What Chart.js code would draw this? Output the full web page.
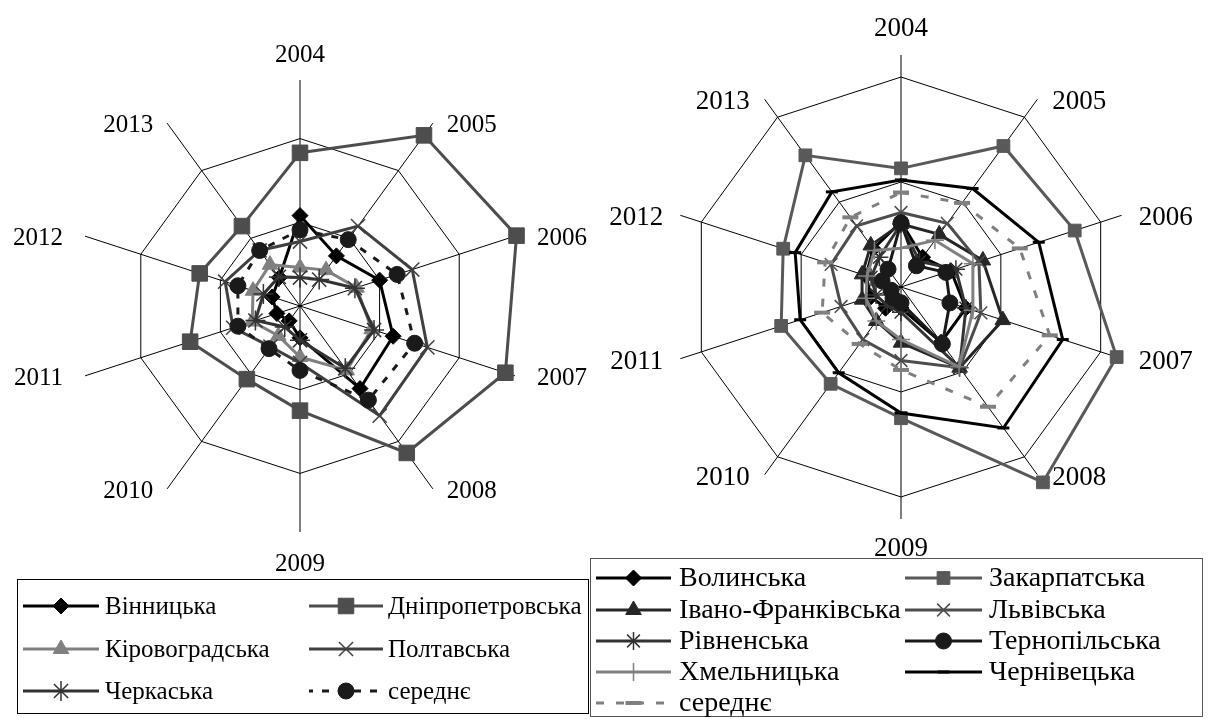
<!DOCTYPE html>
<html lang="uk">
<head>
<meta charset="UTF-8">
<title>Радарні діаграми 2004–2013</title>
<script src="https://cdn.jsdelivr.net/npm/chart.js"></script>
<style>
  html, body { margin: 0; padding: 0; background: #fff; }
  body { width: 1209px; height: 719px; position: relative; overflow: hidden; font-family: "Liberation Serif", "Times New Roman", serif; }
  canvas { position: absolute; top: 0; }
  #left { left: 0; }
  #right { left: 590px; }
  #probe { position: absolute; left: -999px; top: 0; font: 20px "Liberation Serif"; }
</style>
</head>
<body>
<div id="probe">2004 Вінницька</div>
<canvas id="left" width="590" height="719"></canvas>
<canvas id="right" width="619" height="719"></canvas>
<script>
const years = ['2004', '2005', '2006', '2007', '2008', '2009', '2010', '2011', '2012', '2013'];

// left chart
const vinnytsia  = [1.08, 0.74, 1.00, 1.17, 1.22, 0.38, 0.22, 0.29, 0.35, 0.42];
const dnipro     = [1.83, 2.52, 2.72, 2.58, 2.17, 1.25, 1.08, 1.38, 1.26, 1.18];
const kirovohrad = [0.46, 0.53, 0.71, 0.90, 0.95, 0.61, 0.44, 0.60, 0.59, 0.61];
const poltava    = [0.77, 1.18, 1.41, 1.60, 1.62, 0.68, 0.60, 0.84, 0.94, 0.82];
const cherkasy   = [0.34, 0.39, 0.69, 0.93, 0.92, 0.41, 0.31, 0.56, 0.46, 0.43];
const avgCentre  = [0.91, 0.98, 1.22, 1.44, 1.39, 0.77, 0.63, 0.78, 0.78, 0.82];

// right chart
const volyn       = [0.62, 0.35, 0.50, 0.65, 0.65, 0.20, 0.25, 0.30, 0.35, 0.45];
const zakarpattia = [1.13, 1.66, 1.74, 2.16, 2.30, 1.25, 1.14, 1.20, 1.18, 1.55];
const ivano       = [0.60, 0.62, 0.82, 1.02, 0.95, 0.53, 0.40, 0.39, 0.39, 0.49];
const lviv        = [0.71, 0.75, 0.78, 0.80, 0.95, 0.70, 0.62, 0.60, 0.70, 0.72];
const rivne       = [0.60, 0.30, 0.55, 0.65, 0.95, 0.24, 0.22, 0.25, 0.30, 0.35];
const ternopil    = [0.61, 0.25, 0.45, 0.49, 0.67, 0.15, 0.13, 0.10, 0.19, 0.21];
const khmel       = [0.37, 0.55, 0.72, 0.72, 0.94, 0.50, 0.40, 0.35, 0.34, 0.43];
const chernivtsi  = [1.02, 1.16, 1.38, 1.62, 1.66, 1.20, 1.01, 1.01, 1.06, 1.12];
const avgWest     = [0.90, 0.99, 1.19, 1.49, 1.41, 0.79, 0.67, 0.79, 0.76, 0.82];

const FONT = '"Liberation Serif", "Times New Roman", Tinos, "DejaVu Serif", serif';

function series(label, data, color, style, radius, pbw, dash) {
  return {
    label, data,
    borderColor: color, backgroundColor: 'transparent', fill: false,
    borderWidth: 3, borderDash: dash || [],
    pointStyle: style, pointRadius: radius, pointHoverRadius: radius,
    pointBackgroundColor: color, pointBorderColor: color, pointBorderWidth: pbw,
    clip: false
  };
}

// year labels around the web
const yearLabels = {
  id: 'yearLabels',
  afterDraw(chart, args, o) {
    const s = chart.scales.r, ctx = chart.ctx, n = chart.data.labels.length;
    ctx.save();
    ctx.font = o.size + 'px ' + FONT;
    ctx.fillStyle = '#000';
    ctx.textBaseline = 'alphabetic';
    const cap = o.size * 0.66;
    chart.data.labels.forEach((t, i) => {
      const p = s.getPointPosition(i, s.drawingArea);
      if (i === 0) {
        ctx.textAlign = 'center'; ctx.fillText(t, p.x, p.y - o.top);
      } else if (i === n / 2) {
        ctx.textAlign = 'center'; ctx.fillText(t, p.x, p.y + o.bottom + cap);
      } else {
        const far = Math.abs(Math.sin(i / n * 2 * Math.PI)) > 0.8;
        const g = far ? o.far : o.near;
        const right = i < n / 2;
        ctx.textAlign = right ? 'left' : 'right';
        ctx.fillText(t, p.x + (right ? g : -g), p.y + cap / 2 + 1);
      }
    });
    ctx.restore();
  }
};

// boxed two-column legend
const boxLegend = {
  id: 'boxLegend',
  afterDraw(chart, args, o) {
    const ctx = chart.ctx;
    ctx.save();
    ctx.strokeStyle = o.frame; ctx.lineWidth = 1;
    ctx.strokeRect(o.box[0] + 0.5, o.box[1] + 0.5, o.box[2], o.box[3]);
    ctx.font = o.size + 'px ' + FONT;
    ctx.textBaseline = 'middle';
    ctx.textAlign = 'left';
    chart.data.datasets.forEach((ds, k) => {
      const c = o.cols[k % 2], y = o.rows[Math.floor(k / 2)];
      const mid = (c[0] + c[1]) / 2;
      ctx.strokeStyle = ds.borderColor; ctx.lineWidth = ds.borderWidth;
      ctx.setLineDash(ds.borderDash);
      ctx.lineDashOffset = o.dashOffset || 0;
      ctx.beginPath(); ctx.moveTo(c[0], y); ctx.lineTo(c[1], y); ctx.stroke();
      ctx.setLineDash([]);
      ctx.fillStyle = ds.pointBackgroundColor;
      ctx.strokeStyle = ds.pointBorderColor;
      ctx.lineWidth = ds.pointBorderWidth;
      Chart.helpers.drawPoint(ctx, {
        pointStyle: ds.pointStyle, radius: ds.pointRadius,
        borderWidth: ds.pointBorderWidth, rotation: 0
      }, mid, y);
      ctx.fillStyle = '#000';
      ctx.fillText(ds.label, c[2], y + 1);
    });
    ctx.restore();
  }
};

function radarOptions(max, pad, labels, legend) {
  return {
    responsive: false,
    animation: false,
    devicePixelRatio: 1,
    layout: { padding: pad },
    elements: { line: { tension: 0 } },
    plugins: {
      legend: { display: false },
      tooltip: { enabled: false },
      yearLabels: labels,
      boxLegend: legend
    },
    scales: {
      r: {
        min: 0, max: max,
        ticks: { display: false, stepSize: 1 },
        grid: { color: c => (c.tick && c.tick.value > 2) ? 'rgba(0,0,0,0)' : '#000', lineWidth: 1 },
        angleLines: { color: '#000', lineWidth: 1 },
        pointLabels: { display: false }
      }
    }
  };
}

function ordered(list) {
  // later series on top, as in the source
  list.forEach((d, k) => { d.order = list.length - k; });
  return list;
}

function draw() {
  new Chart(document.getElementById('left'), {
    type: 'radar',
    data: {
      labels: years,
      datasets: ordered([
        series('Вінницька', vinnytsia, '#000000', 'rectRot', 8, 1),
        series('Дніпропетровська', dnipro, '#4d4d4d', 'rect', 11, 1),
        series('Кіровоградська', kirovohrad, '#808080', 'triangle', 9, 1),
        series('Полтавська', poltava, '#404040', 'crossRot', 10, 1.5),
        series('Черкаська', cherkasy, '#333333', 'star', 10, 1.5),
        series('середнє', avgCentre, '#1a1a1a', 'circle', 8, 1, [7, 9])
      ])
    },
    options: radarOptions(2.7, { left: 74, right: 64, top: 80, bottom: 187 },
      { size: 25, top: 18, bottom: 22, near: 14, far: 22 },
      { frame: '#000', box: [17, 579, 571, 134], size: 25,
        cols: [[23, 99, 105], [309, 383, 388]], rows: [606, 649, 691], dashOffset: 3 }),
    plugins: [yearLabels, boxLegend]
  });

  new Chart(document.getElementById('right'), {
    type: 'radar',
    data: {
      labels: years,
      datasets: ordered([
        series('Волинська', volyn, '#000000', 'rectRot', 8, 1),
        series('Закарпатська', zakarpattia, '#595959', 'rect', 9, 1),
        series('Івано-Франківська', ivano, '#262626', 'triangle', 9, 1),
        series('Львівська', lviv, '#4d4d4d', 'crossRot', 9, 1.5),
        series('Рівненська', rivne, '#333333', 'star', 9, 1.5),
        series('Тернопільська', ternopil, '#1a1a1a', 'circle', 8, 1),
        series('Хмельницька', khmel, '#808080', 'cross', 9, 1.5),
        series('Чернівецька', chernivtsi, '#000000', 'line', 6, 3),
        series('середнє', avgWest, '#808080', 'line', 8, 4, [8, 12])
      ])
    },
    options: radarOptions(2.21, { left: 79, right: 76, top: 55, bottom: 200 },
      { size: 27, top: 19, bottom: 19, near: 15, far: 17 },
      { frame: '#555', box: [0, 558, 612, 158], size: 28,
        cols: [[6, 81, 89], [315, 392, 399]], rows: [578, 610, 641, 672, 703], dashOffset: 0 }),
    plugins: [yearLabels, boxLegend]
  });
}

if (document.fonts && document.fonts.load) {
  document.fonts.load('20px "Liberation Serif"').then(draw, draw);
} else {
  draw();
}
</script>
</body>
</html>
